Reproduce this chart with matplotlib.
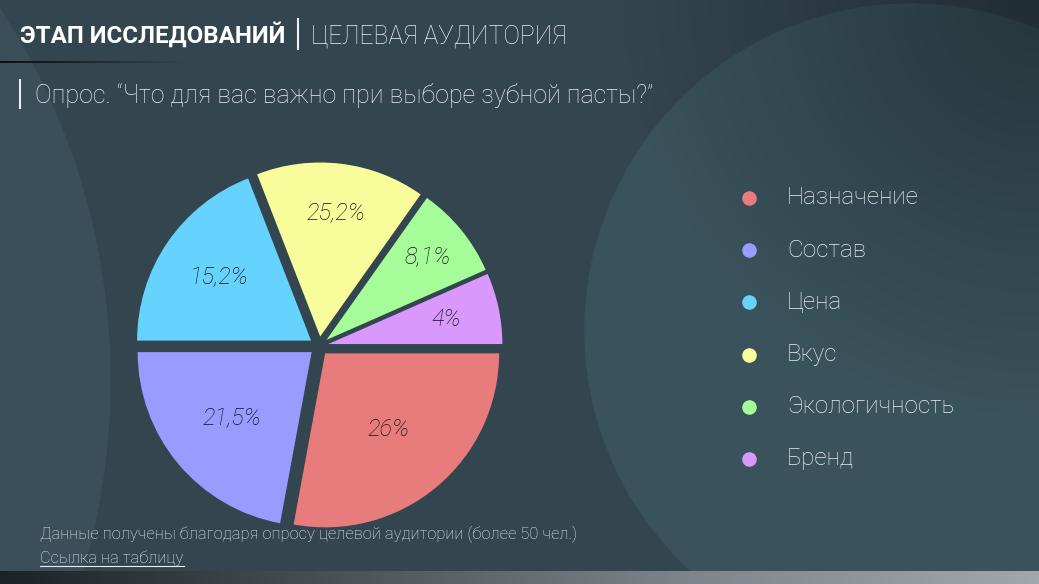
import numpy as np
import matplotlib
matplotlib.use('Agg')
import matplotlib.pyplot as plt
from matplotlib.patches import Circle, Rectangle

# данные (доли секторов, подписи - как на слайде)
categories = ['Назначение', 'Состав', 'Цена', 'Вкус', 'Экологичность', 'Бренд']
shares = [27.9, 22.1, 19.1, 15.7, 8.6, 6.6]
pct_labels = ['26%', '21,5%', '15,2%', '25,2%', '8,1%', '4%']
colors = ['#e87b7b', '#989cff', '#66d3ff', '#f8fc9b', '#a6fc98', '#d998fc']

title_bold = 'ЭТАП ИССЛЕДОВАНИЙ'
title_light = 'ЦЕЛЕВАЯ АУДИТОРИЯ'
subtitle = 'Опрос. “Что для вас важно при выборе зубной пасты?”'
note = 'Данные получены благодаря опросу целевой аудитории (более 50 чел.)'
link = 'Ссылка на таблицу'

# насколько далеко от центра стоят подписи (в радиусах)
label_r = [0.57, 0.60, 0.64, 0.72, 0.75, 0.69]

W, H = 1039, 584
bg = '#33454f'
txt = '#eceeef'

plt.rcParams['font.family'] = ['Roboto', 'DejaVu Sans']

fig = plt.figure(figsize=(W / 100, H / 100), dpi=100)
fig.patch.set_facecolor(bg)

# фон в пикселях
ax = fig.add_axes([0, 0, 1, 1])
ax.set_xlim(0, W)
ax.set_ylim(H, 0)
ax.axis('off')
ax.add_patch(Rectangle((0, 0), W, H, color=bg, zorder=0))
ax.add_patch(Circle((-570, 380), 680, color='#3a4f59', zorder=1))
ax.add_patch(Circle((911, 330), 326, color='#3a525b', zorder=1))

# затемнение в правом верхнем углу
yy, xx = np.mgrid[0:H, 0:W]
d = np.hypot(xx - W, yy) / 420.0
shade = np.zeros((H, W, 4))
shade[..., 3] = np.clip(1 - d, 0, 1) * 0.35
ax.imshow(shade, extent=(0, W, H, 0), zorder=2, aspect='auto')

# полоска внизу
grad = np.linspace(0, 1, 256).reshape(1, -1)
ax.imshow(grad, extent=(0, W, H, 571), cmap=matplotlib.colors.LinearSegmentedColormap.from_list(
    'strip', ['#1c2326', '#4b5356', '#7d868a', '#9fa8ab']), zorder=3, aspect='auto')

# тёмная линия под заголовком
line = np.zeros((1, 256, 4))
line[..., 3] = np.linspace(0.8, 0, 256)
ax.imshow(line, extent=(0, 185, 63, 61), zorder=3, aspect='auto')

# заголовок
ax.text(20, 43, title_bold, color='white', fontsize=17.4, fontweight='bold', zorder=5)
ax.plot([298, 298], [19, 49], color=txt, lw=1.5, zorder=5)
ax.text(311, 43, title_light, color=txt, fontsize=17.8, fontweight='light', zorder=5)

ax.plot([20, 20], [80, 108], color=txt, lw=1.5, zorder=5)
ax.text(35, 103, subtitle, color=txt, fontsize=18, fontweight='light', zorder=5)

# легенда
for i, (cat, c) in enumerate(zip(categories, colors)):
    y = 198 + i * 52.2
    ax.scatter(749, y, s=110, color=c, zorder=5, linewidths=0)
    ax.text(787, y, cat, color=txt, fontsize=17.5, fontweight='light', va='center', zorder=5)

# подписи внизу
ax.text(40, 539, note, color=txt, fontsize=11.9, fontweight='light', zorder=5)
ax.text(40, 563, link, color=txt, fontsize=11.9, fontweight='light', zorder=5)
ax.plot([40, 184], [566, 566], color=txt, lw=0.8, zorder=5)

# круговая диаграмма
cx, cy, R = 319, 346, 174
half = R * 1.3
pie_ax = fig.add_axes([(cx - half) / W, (H - cy - half) / H, 2 * half / W, 2 * half / H])
pie_ax.set_facecolor('none')
wedges, texts = pie_ax.pie(shares, labels=pct_labels, colors=colors, startangle=0,
                           counterclock=False, explode=[0.055] * len(shares),
                           labeldistance=0.67, radius=1,
                           textprops=dict(color='#101417', fontsize=17, fontstyle='italic',
                                          fontweight='light'))
for w, tx, r in zip(wedges, texts, label_r):
    a = np.deg2rad((w.theta1 + w.theta2) / 2)
    tx.set_position((w.center[0] + r * np.cos(a), w.center[1] + r * np.sin(a)))
    tx.set_horizontalalignment('center')
    tx.set_verticalalignment('center')
pie_ax.set_xlim(-1.3, 1.3)
pie_ax.set_ylim(-1.3, 1.3)
pie_ax.axis('off')

fig.savefig('out.png', dpi=100, facecolor=bg)
